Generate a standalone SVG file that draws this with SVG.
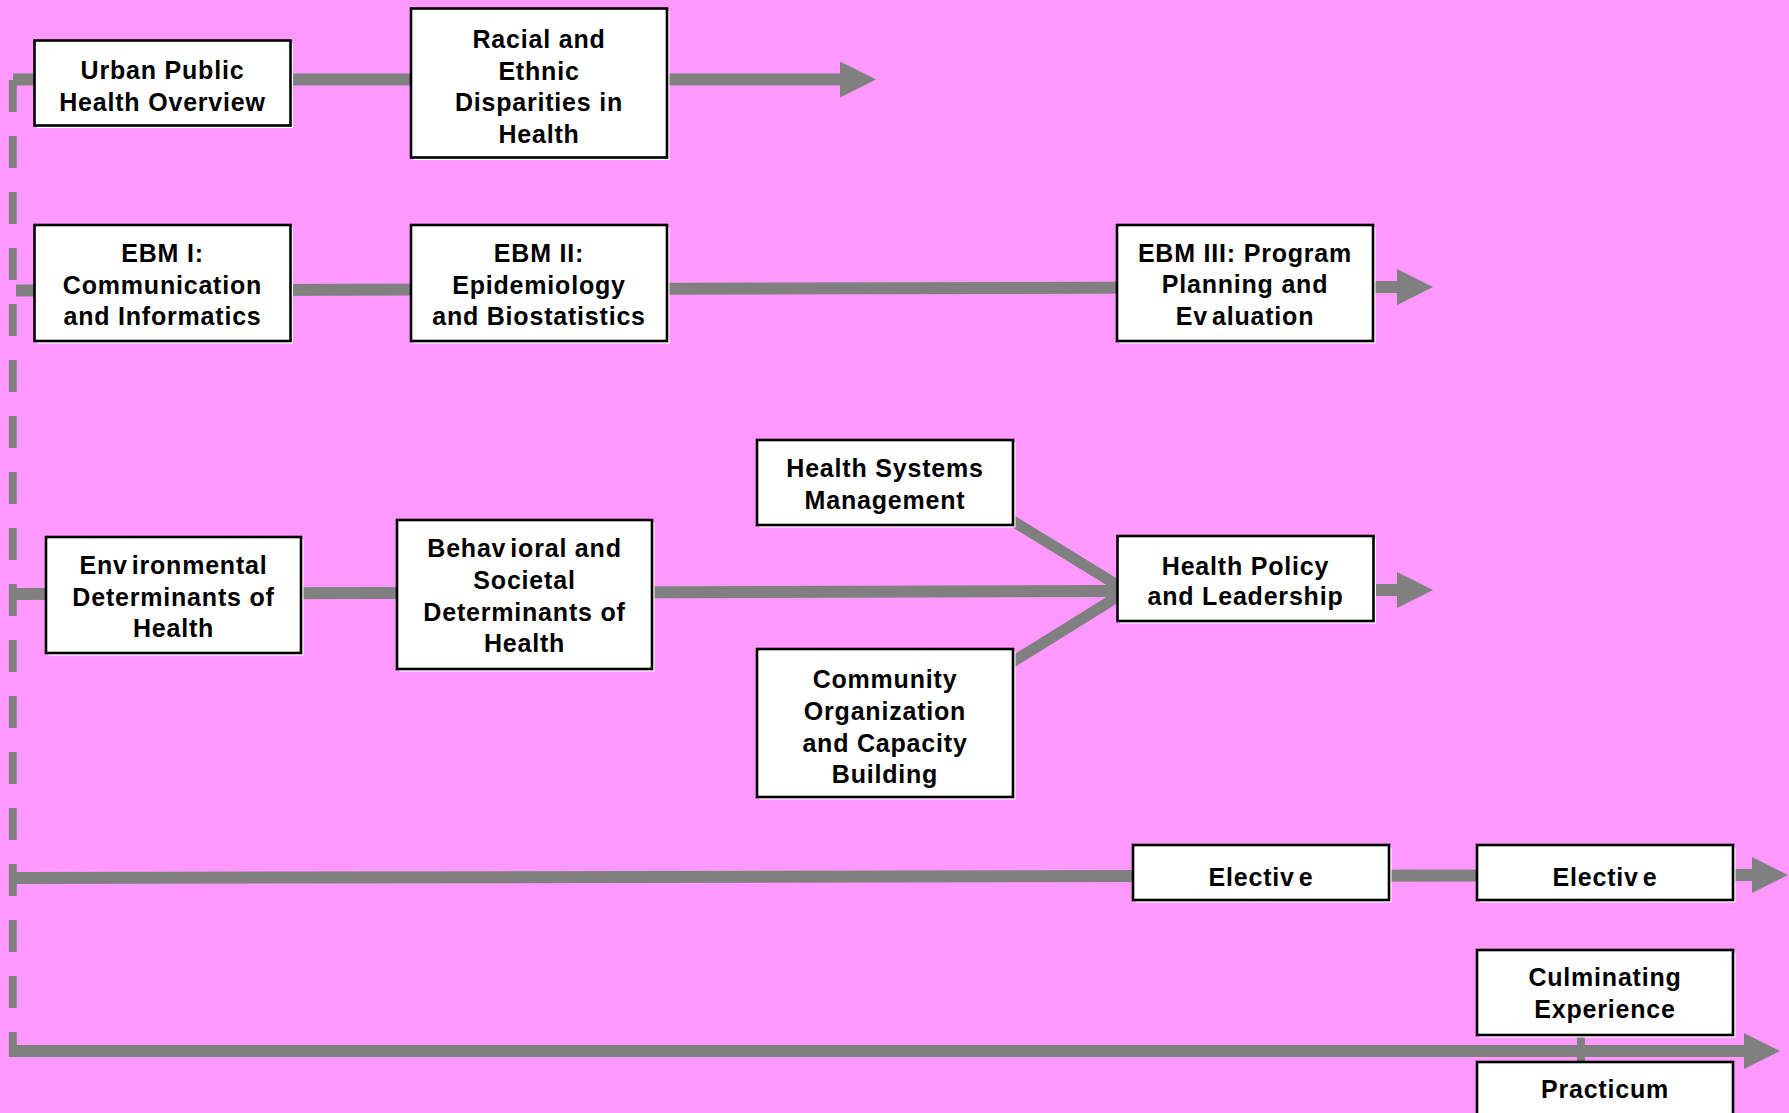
<svg xmlns="http://www.w3.org/2000/svg" width="1789" height="1113" viewBox="0 0 1789 1113">
  <style>
    .box { fill: #ffffff; stroke: #000000; stroke-width: 2.6; }
    .shade { fill: #ffffff; stroke: none; }
    .lbl { font-family: "Liberation Sans", Arial, sans-serif; font-weight: bold; font-size: 25px; letter-spacing: 0.8px; fill: #000000; text-anchor: middle; }
    .flow { fill: none; stroke: #808080; stroke-width: 12; }
    .link { fill: none; stroke: #808080; stroke-width: 11; }
    .spine { fill: none; stroke: #808080; stroke-width: 8; stroke-dasharray: 32 24; }
  </style>
  <defs>
    <marker id="head" viewBox="0 0 36 36" markerUnits="userSpaceOnUse" markerWidth="36" markerHeight="36" refX="0" refY="18" orient="auto">
      <path d="M0 0 L36 18 L0 36 Z" fill="#808080"/>
    </marker>
  </defs>

  <rect x="0" y="0" width="1789" height="1113" fill="#ff99ff"/>

  <!-- connectors -->
  <g id="connectors">
    <line class="spine" x1="12.8" y1="80" x2="12.8" y2="1057"/>
    <path class="flow" d="M13 79.5 H840" marker-end="url(#head)"/>
    <path class="flow" d="M16 290.5 L1397 287" marker-end="url(#head)"/>
    <path class="flow" d="M9 594 L1117 591"/>
    <path class="flow" d="M1373 590 H1397" marker-end="url(#head)"/>
    <path class="link" d="M990 507 L1117 585"/>
    <path class="link" d="M990 676 L1117 597"/>
    <path class="flow" d="M13 878 L1752 875" marker-end="url(#head)"/>
    <path class="flow" d="M9 1051 H1744" marker-end="url(#head)"/>
    <line x1="1581" y1="1034" x2="1581" y2="1063" stroke="#808080" stroke-width="8"/>
  </g>

  <!-- course nodes -->
  <g id="urban-public-health">
    <rect class="shade" x="37" y="43" width="256" height="85"/>
    <rect class="box" x="34.5" y="40.5" width="256" height="85"/>
    <text class="lbl" x="162.5" y="79">Urban Public</text>
    <text class="lbl" x="162.5" y="111">Health Overview</text>
  </g>

  <g id="racial-ethnic-disparities">
    <rect class="shade" x="413.5" y="11" width="256" height="149"/>
    <rect class="box" x="411" y="8.5" width="256" height="149"/>
    <text class="lbl" x="539" y="48">Racial and</text>
    <text class="lbl" x="539" y="79.5">Ethnic</text>
    <text class="lbl" x="539" y="111">Disparities in</text>
    <text class="lbl" x="539" y="142.7">Health</text>
  </g>

  <g id="ebm-1">
    <rect class="shade" x="37" y="227.5" width="256" height="116"/>
    <rect class="box" x="34.5" y="225" width="256" height="116"/>
    <text class="lbl" x="162.5" y="262">EBM I:</text>
    <text class="lbl" x="162.5" y="293.5">Communication</text>
    <text class="lbl" x="162.5" y="325">and Informatics</text>
  </g>

  <g id="ebm-2">
    <rect class="shade" x="413.5" y="227.5" width="256" height="116"/>
    <rect class="box" x="411" y="225" width="256" height="116"/>
    <text class="lbl" x="539" y="262">EBM II:</text>
    <text class="lbl" x="539" y="293.5">Epidemiology</text>
    <text class="lbl" x="539" y="325">and Biostatistics</text>
  </g>

  <g id="ebm-3">
    <rect class="shade" x="1119.5" y="227.5" width="256" height="116"/>
    <rect class="box" x="1117" y="225" width="256" height="116"/>
    <text class="lbl" x="1245" y="261.5">EBM III: Program</text>
    <text class="lbl" x="1245" y="293">Planning and</text>
    <text class="lbl" x="1245" y="324.5">Ev<tspan dx="4">aluation</tspan></text>
  </g>

  <g id="health-systems-management">
    <rect class="shade" x="759.5" y="442.5" width="256" height="85"/>
    <rect class="box" x="757" y="440" width="256" height="85"/>
    <text class="lbl" x="885" y="477">Health Systems</text>
    <text class="lbl" x="885" y="508.5">Management</text>
  </g>

  <g id="health-policy-leadership">
    <rect class="shade" x="1120" y="538.5" width="256" height="85"/>
    <rect class="box" x="1117.5" y="536" width="256" height="85"/>
    <text class="lbl" x="1245.5" y="574.5">Health Policy</text>
    <text class="lbl" x="1245.5" y="605">and Leadership</text>
  </g>

  <g id="environmental-determinants">
    <rect class="shade" x="48.5" y="539.5" width="255" height="116"/>
    <rect class="box" x="46" y="537" width="255" height="116"/>
    <text class="lbl" x="173.5" y="574">Env<tspan dx="4">ironmental</tspan></text>
    <text class="lbl" x="173.5" y="605.7">Determinants of</text>
    <text class="lbl" x="173.5" y="637.3">Health</text>
  </g>

  <g id="behavioral-societal-determinants">
    <rect class="shade" x="399.5" y="522.5" width="255" height="149"/>
    <rect class="box" x="397" y="520" width="255" height="149"/>
    <text class="lbl" x="524.5" y="557.3">Behav<tspan dx="4">ioral and</tspan></text>
    <text class="lbl" x="524.5" y="589">Societal</text>
    <text class="lbl" x="524.5" y="620.7">Determinants of</text>
    <text class="lbl" x="524.5" y="652.3">Health</text>
  </g>

  <g id="community-organization">
    <rect class="shade" x="759.5" y="651.5" width="256" height="148"/>
    <rect class="box" x="757" y="649" width="256" height="148"/>
    <text class="lbl" x="885" y="688">Community</text>
    <text class="lbl" x="885" y="719.8">Organization</text>
    <text class="lbl" x="885" y="751.5">and Capacity</text>
    <text class="lbl" x="885" y="783.2">Building</text>
  </g>

  <g id="elective-1">
    <rect class="shade" x="1135.5" y="847.5" width="256" height="55"/>
    <rect class="box" x="1133" y="845" width="256" height="55"/>
    <text class="lbl" x="1261" y="885.5">Electiv<tspan dx="4">e</tspan></text>
  </g>

  <g id="elective-2">
    <rect class="shade" x="1479.5" y="847.5" width="256" height="55"/>
    <rect class="box" x="1477" y="845" width="256" height="55"/>
    <text class="lbl" x="1605" y="885.5">Electiv<tspan dx="4">e</tspan></text>
  </g>

  <g id="culminating-experience">
    <rect class="shade" x="1479.5" y="952.5" width="256" height="85"/>
    <rect class="box" x="1477" y="950" width="256" height="85"/>
    <text class="lbl" x="1605" y="985.7">Culminating</text>
    <text class="lbl" x="1605" y="1017.7">Experience</text>
  </g>

  <g id="practicum">
    <rect class="box" x="1477" y="1062" width="256" height="80"/>
    <text class="lbl" x="1605" y="1098">Practicum</text>
  </g>
</svg>
